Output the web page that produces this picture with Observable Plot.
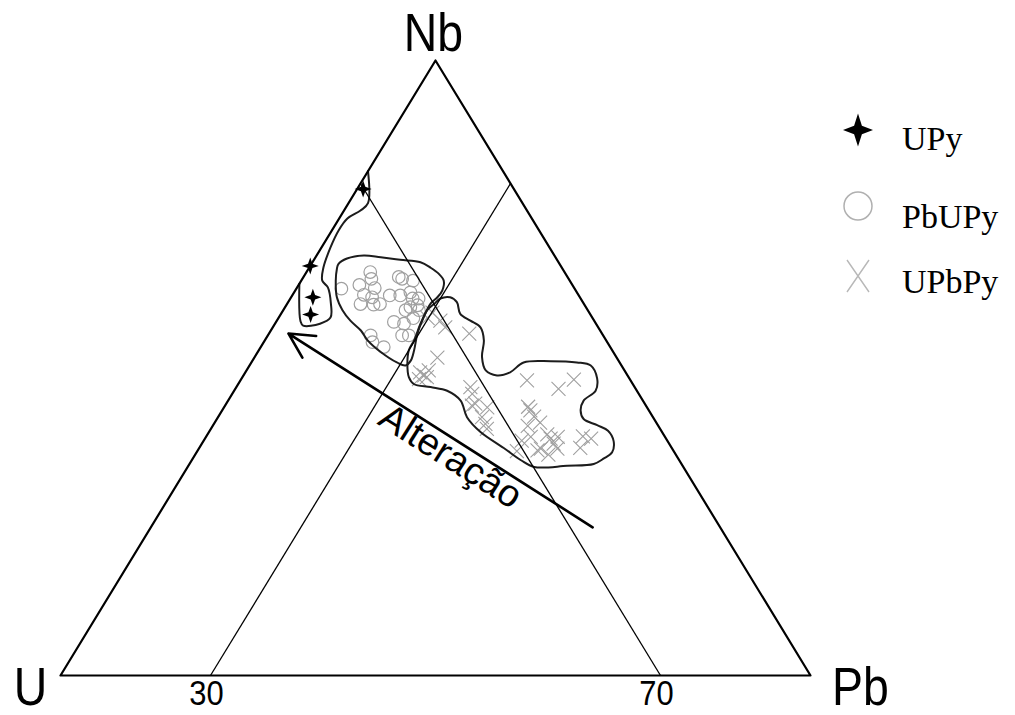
<!DOCTYPE html>
<html><head><meta charset="utf-8">
<script src="https://cdn.jsdelivr.net/npm/d3@7"></script>
<script src="https://cdn.jsdelivr.net/npm/@observablehq/plot@0.6"></script>
<style>
body{margin:0;background:#fff;}
#wrap{position:relative;width:1015px;height:715px;}
</style></head><body><div id="wrap"></div>
<script>
// Ternary compositions in percent, stored as [Pb, Nb]; U = 100 - Pb - Nb
const upy = [[0.8,79.1],[0,66.6],[2.9,61.5],[4.0,58.7]];
const pbupy = [[6.0,62.9],[8.5,65.6],[9.2,64.5],[8.1,63.5],[10.4,63.0],[9.5,61.9],[9.8,60.4],[10.8,61.5],[11.6,60.3],[12.4,60.4],[13.0,61.8],[12.7,64.8],[13.3,64.5],[14.9,64.2],[14.4,61.8],[15.5,62.3],[16.3,61.3],[16.3,59.4],[17.5,60.2],[18.1,59.4],[15.7,57.5],[17.2,57.2],[17.9,55.3],[13.7,55.3],[14.5,54.2],[16.4,53.4],[16.7,59.9],[18.8,55.3],[17.1,61.3],[18.0,58.1]];
const upbpy = [[21.8,57.7],[20.1,59.0],[26.7,55.6],[24.4,51.7],[23.3,49.3],[24.1,48.8],[24.6,48.5],[23.7,48.2],[24.3,49.6],[31.2,46.9],[32.0,45.8],[32.9,43.9],[35.1,43.6],[36.2,40.9],[36.8,40.1],[38.2,48.0],[43.1,46.6],[44.4,48.1],[40.5,43.7],[41.1,43.1],[42.1,42.1],[42.0,40.6],[43.4,41.1],[45.3,39.2],[46.1,38.5],[46.9,38.8],[46.9,37.7],[45.6,36.9],[47.1,35.9],[47.8,36.9],[42.6,36.5],[50.2,38.9],[51.5,38.5],[50.8,37.0],[43.3,38.8],[45.3,36.6],[33.2,44.2],[42.4,38.2],[23.0,56.6],[19.9,58.1],[35.2,42.0]];
const fieldUPy = [[0,82],[2.6,76.8],[2.2,75.6],[1.1,74.3],[0.9,72.4],[1.2,69.6],[1.9,66.3],[2.8,64.2],[4.1,63.1],[5.8,60.5],[6.9,58.2],[6.0,57.2],[3.9,56.9],[3.2,57.6],[0,63.7]];
const fieldPbUPy = [[3.6,66.9],[4.3,67.8],[6.3,68.3],[8.7,68.0],[11.5,67.6],[14.4,67.2],[16.2,66.3],[17.8,65.3],[19.0,64.2],[19.6,62.6],[19.5,61.5],[19.1,60.4],[19.3,58.3],[19.8,55.6],[20.7,52.9],[21.1,51.2],[20.8,50.4],[19.4,50.9],[16.4,52.6],[13.7,54.5],[12.0,56.1],[9.8,57.7],[7.9,59.4],[6.1,61.5],[4.6,64.2],[3.8,66.1]];
const fieldUPbPy = [[19.6,60.4],[20.0,61.3],[21.2,61.5],[22.5,60.7],[23.9,58.8],[25.8,57.7],[27.7,56.6],[29.2,54.5],[30.3,51.8],[31.9,49.6],[33.8,48.8],[35.3,49.3],[36.3,50.9],[39.8,51.1],[43.4,50.9],[45.5,50.4],[47.4,48.3],[48.2,46.3],[47.4,44.7],[47.8,43.1],[48.9,41.7],[51.2,40.7],[53.1,39.8],[54.7,38.1],[55.4,36.3],[54.8,35.3],[53.9,34.4],[50.5,34.1],[46.2,33.9],[43.9,35.0],[40.6,37.0],[36.2,39.6],[33.2,42.0],[31.0,44.7],[28.4,46.3],[25.9,46.9],[23.4,47.4],[22.2,48.5],[20.9,50.7],[20.0,52.9],[19.9,54.5],[19.4,57.2],[19.2,59.4]];
const vertexNames = ["U","Pb","Nb"];
const vertices = [[0,0],[100,0],[0,100]];
const gridLines = [{from:[20,0],to:[20,80]},{from:[80,0],to:[0,80]}];
const tickLabels = ["30","70"];
const tickPb = [20,80];
const arrowFrom = [58.9,24.1];
const arrowTo = [2.6,55.6];
const arrowLabel = "Alteração";
const legendNames = ["UPy","PbUPy","UPbPy"];

const X = d => d[0] + d[1]/2;
const Y = d => d[1];
const star4 = {draw(ctx, size){ const r = Math.sqrt(size/Math.PI); const w = r*0.26;
  ctx.moveTo(0,-r); ctx.lineTo(w,-w); ctx.lineTo(r,0); ctx.lineTo(w,w);
  ctx.lineTo(0,r); ctx.lineTo(-w,w); ctx.lineTo(-r,0); ctx.lineTo(-w,-w); ctx.closePath(); }};
const cross = {draw(ctx, size){ const r = Math.sqrt(size/Math.PI);
  ctx.moveTo(-r,-r); ctx.lineTo(r,r); ctx.moveTo(r,-r); ctx.lineTo(-r,r); }};
const sans = "'Liberation Sans',Arial,Helvetica,sans-serif";
const grey = "#a0a0a0";
const outline = {stroke:"#1c1c1c", strokeWidth:2, fill:"none"};

const plot = Plot.plot({
  width:1015, height:715, marginLeft:60, marginRight:205, marginTop:60, marginBottom:40,
  x:{domain:[0,100], axis:null}, y:{domain:[0,100], axis:null},
  style:{background:"#fff", fontFamily:sans, overflow:"visible"},
  marks:[
    Plot.dot(pbupy, {x:X, y:Y, r:6.3, symbol:"circle", stroke:grey, strokeWidth:1.2, fill:"none"}),
    Plot.dot(upbpy, {x:X, y:Y, r:7, symbol:cross, stroke:grey, strokeWidth:1.1, fill:"none"}),
    Plot.line(fieldUPy, {x:X, y:Y, curve:"catmull-rom", ...outline}),
    Plot.line(fieldPbUPy, {x:X, y:Y, curve:"catmull-rom-closed", ...outline}),
    Plot.line(fieldUPbPy, {x:X, y:Y, curve:"catmull-rom-closed", ...outline}),
    Plot.link(gridLines, {x1:d=>X(d.from), y1:d=>Y(d.from), x2:d=>X(d.to), y2:d=>Y(d.to), stroke:"#000", strokeWidth:1.3}),
    Plot.line(vertices, {x:X, y:Y, curve:"linear-closed", stroke:"#000", strokeWidth:2.2, fill:"none"}),
    Plot.dot(upy, {x:X, y:Y, r:8.5, symbol:star4, fill:"#000", stroke:"none"}),
    Plot.arrow([0], {x1:X(arrowFrom), y1:Y(arrowFrom), x2:X(arrowTo), y2:Y(arrowTo), stroke:"#000", strokeWidth:2.6, headLength:16, headAngle:55}),
    Plot.text([0], {x:(X(arrowFrom)+X(arrowTo))/2, y:(Y(arrowFrom)+Y(arrowTo))/2, text:[arrowLabel], rotate:32.5, dx:10, dy:26, fontSize:38, fill:"#000"}),
    Plot.text(tickPb, {x:d=>d, y:()=>0, text:(d,i)=>tickLabels[i], dx:-4, dy:18, fontSize:36}),
    Plot.text([vertices[0]], {x:X, y:Y, text:[vertexNames[0]], dx:-30, dy:12, fontSize:54}),
    Plot.text([vertices[1]], {x:X, y:Y, text:[vertexNames[1]], dx:50, dy:12, fontSize:54}),
    Plot.text([vertices[2]], {x:X, y:Y, text:[vertexNames[2]], dx:-2, dy:-27, fontSize:54})
  ]
});
document.getElementById("wrap").appendChild(plot);

const svg = d3.select(plot);
// narrow the Helvetica-style labels like the reference
const narrowSet = new Set([...vertexNames, ...tickLabels]);
svg.selectAll("text").filter(function(){ return narrowSet.has(this.textContent); })
  .each(function(){ const t = this.getAttribute("transform") || ""; this.setAttribute("transform", t + " scale(0.86,1)"); });

// legend
const lg = svg.append("g").attr("text-anchor","start");
const ys = [130, 206, 276], tys = [150, 228, 293];
const sp = d3.path(); star4.draw(sp, Math.PI*15*15);
lg.append("path").attr("d", sp.toString()).attr("transform", `translate(858,${ys[0]}) scale(1,1.1)`).attr("fill","#000");
lg.append("circle").attr("cx",858).attr("cy",ys[1]).attr("r",14).attr("fill","none").attr("stroke","#b0b0b0").attr("stroke-width",1.5);
lg.append("path").attr("d","M-11,-16L11,16M11,-16L-11,16").attr("transform",`translate(858,${ys[2]})`).attr("fill","none").attr("stroke","#b8b8b8").attr("stroke-width",1.4);
legendNames.forEach((n,i)=>{
  lg.append("text").attr("x",902).attr("y",tys[i]).attr("font-family","'Liberation Serif','Times New Roman',serif").attr("font-size",34).attr("fill","#000").text(n);
});
</script></body></html>
